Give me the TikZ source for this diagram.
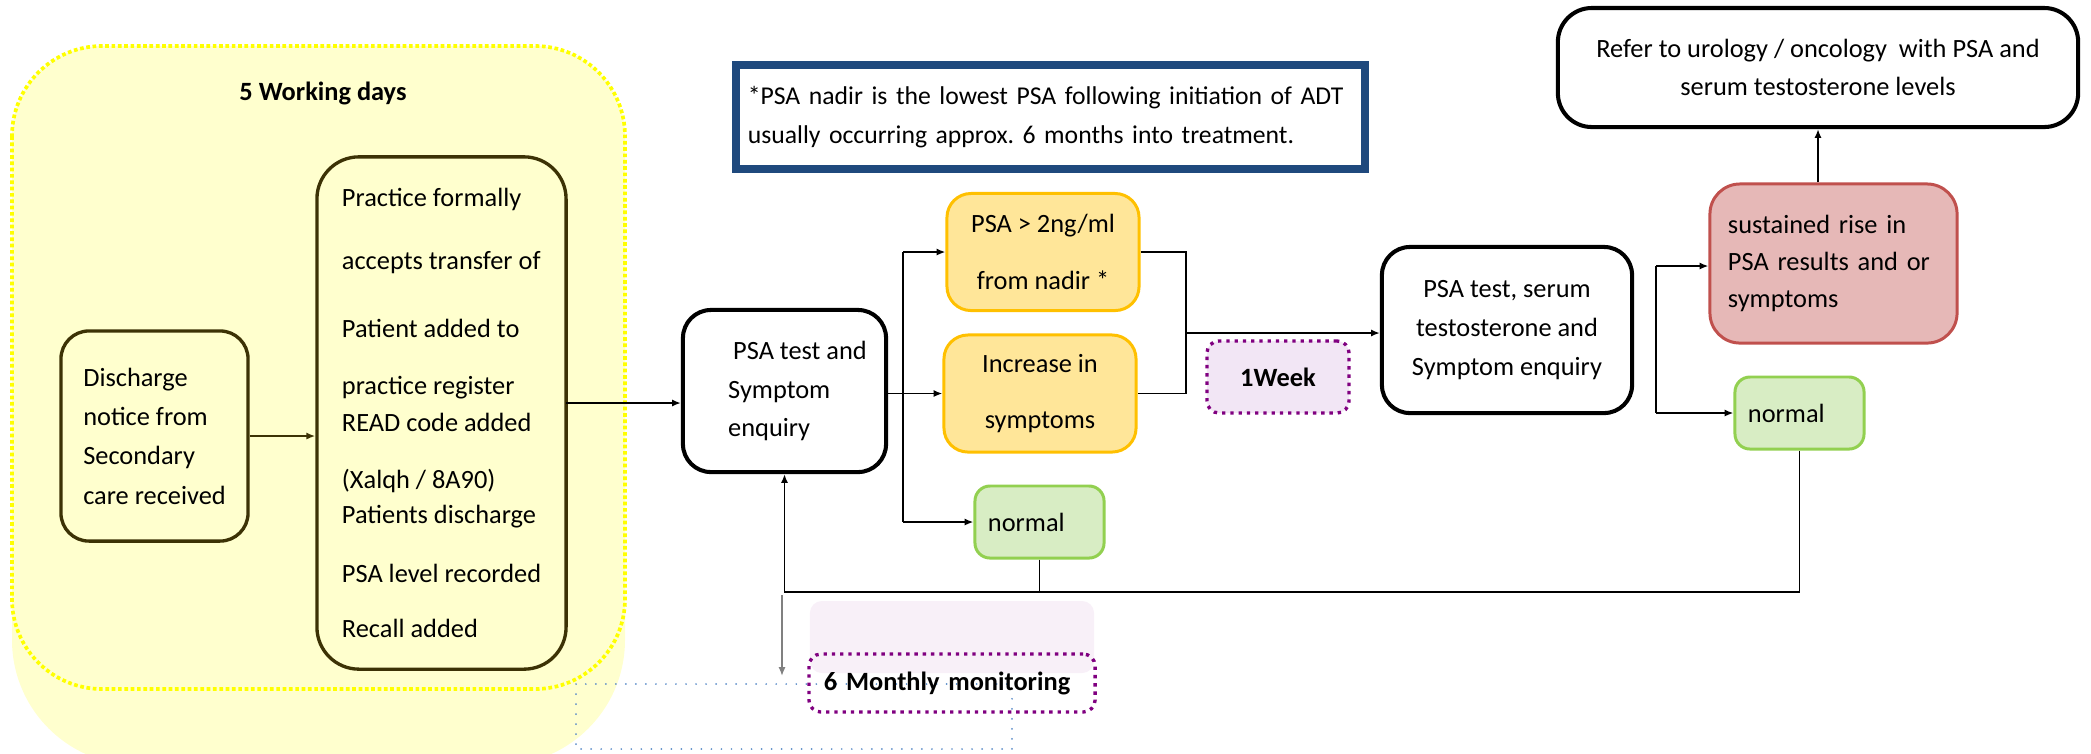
\documentclass[tikz,border=0pt]{standalone}
\usepackage{fontspec}
\setmainfont{Carlito}
\usetikzlibrary{arrows.meta,positioning,shapes}
\frenchspacing

\definecolor{boxolive}{RGB}{60,50,5}
\definecolor{dayfill}{RGB}{255,255,206}
\definecolor{dayline}{RGB}{255,255,0}
\definecolor{amberfill}{RGB}{255,230,153}
\definecolor{amberline}{RGB}{255,192,0}
\definecolor{okfill}{RGB}{216,237,196}
\definecolor{okline}{RGB}{146,208,80}
\definecolor{riskfill}{RGB}{230,184,183}
\definecolor{riskline}{RGB}{192,80,77}
\definecolor{waitline}{RGB}{128,0,128}
\definecolor{waitfill}{RGB}{242,230,245}
\definecolor{monthfill}{RGB}{248,240,248}
\definecolor{noteline}{RGB}{31,73,125}
\definecolor{linkblue}{RGB}{91,140,200}

\tikzset{
  every node/.style={font=\fontsize{7.5}{11}\selectfont},
  boldtxt/.style={font=\fontsize{7.5}{11}\selectfont\bfseries},
  stepbox/.style={rectangle, draw=boxolive, line width=0.95pt, fill=dayfill, align=left},
  testbox/.style={rectangle, draw=black, line width=1.15pt, fill=white, rounded corners=0.28cm},
  amberbox/.style={rectangle, draw=amberline, fill=amberfill, line width=0.85pt, rounded corners=0.24cm,
    align=center, minimum width=1.92cm, minimum height=1.17cm},
  okbox/.style={rectangle, draw=okline, fill=okfill, line width=0.85pt, rounded corners=0.15cm,
    minimum width=1.29cm, minimum height=0.72cm, text width=1.03cm, inner xsep=0.13cm, align=left},
  riskbox/.style={rectangle, draw=riskline, fill=riskfill, line width=0.85pt, rounded corners=0.3cm},
  waitbox/.style={rectangle, draw=waitline, line width=0.95pt, dash pattern=on 0.95pt off 1.4pt,
    rounded corners=0.12cm},
  arr/.style={line width=0.48pt, -{Latex[length=2.5pt,width=2pt]}},
  link/.style={line width=0.48pt},
}

\begin{document}
\begin{tikzpicture}[x=0.01cm,y=-0.01cm]
  \useasboundingbox (0,0) rectangle (2091,753);

  % five working days area
  \fill[dayfill, rounded corners=1.25cm] (12,60) rectangle (625,765);
  \draw[dayline, fill=dayfill, line width=1.05pt, dash pattern=on 1.05pt off 0.75pt,
    rounded corners=0.9cm] (12,46) rectangle (625,689);
  \node[boldtxt, anchor=base] (wdays) at (323,100) {5 Working days};

  \node[stepbox, rounded corners=0.28cm, minimum width=1.87cm, minimum height=2.10cm,
    font=\fontsize{7.5}{11.2}\selectfont] (discharge) at (154.5,436)
    {Discharge\\notice from\\Secondary\\care received};

  \node[stepbox, rounded corners=0.42cm, minimum width=2.49cm, minimum height=5.12cm] (practice) at (441.5,413)
    {Practice formally\\[6.9pt]
     accepts transfer of\\[8.3pt]
     Patient added to\\[5.2pt]
     practice register\\[-0.5pt]
     READ code added\\[5.2pt]
     (Xalqh / 8A90)\\[-1pt]
     Patients discharge\\[5.8pt]
     PSA level recorded\\[4.6pt]
     Recall added};

  % footnote
  \node[rectangle, draw=noteline, line width=2.28pt, minimum width=6.29cm, minimum height=1.04cm,
    text width=6.05cm, inner xsep=0.12cm, align=left, font=\fontsize{7.3}{11.1}\selectfont] (note) at (1050.5,117)
    {*PSA nadir is the lowest PSA following initiation of ADT\\usually occurring approx. 6 months into treatment.};

  % first test
  \node[testbox, minimum width=2.03cm, minimum height=1.62cm, align=left] (psatest) at (784.5,391)
    {\hspace*{0.31cm}PSA test and\\\hspace*{0.26cm}Symptom\\\hspace*{0.26cm}enquiry};
  \node[amberbox] (gt2) at (1043,252) {PSA > 2ng/ml\\[5pt]from nadir *};
  \node[amberbox] (incr) at (1040,393.5) {Increase in\\[5pt]symptoms};
  \node[okbox] (normA) at (1039.5,522) {normal};

  \node[waitbox, fill=waitfill, minimum width=1.42cm, minimum height=0.72cm, boldtxt] (week) at (1278,377) {1Week};

  % repeat test
  \node[testbox, minimum width=2.50cm, minimum height=1.66cm, align=center] (serum) at (1507,330)
    {PSA test, serum\\testosterone and\\Symptom enquiry};
  \node[riskbox, minimum width=2.47cm, minimum height=1.59cm, text width=2.11cm, inner xsep=0.18cm,
    align=left, font=\fontsize{7.5}{10.5}\selectfont] (red) at (1833.5,263.5)
    {sustained rise in\\PSA results and or\\symptoms};
  \node[okbox] (normB) at (1799.5,413) {normal};
  \node[testbox, rounded corners=0.34cm, minimum width=5.20cm, minimum height=1.19cm, align=center] (refer) at (1818,67.5)
    {Refer to urology / oncology \ with PSA and\\serum testosterone levels};

  % six monthly
  \node[fill=monthfill, rounded corners=0.12cm, minimum width=2.84cm, minimum height=0.72cm] (monthbg) at (952,637) {};
  \draw[linkblue, line width=0.55pt, line cap=round, dash pattern=on 0pt off 2.85pt] (576,684) rectangle (1012,749);
  \node[waitbox, minimum width=2.86cm, minimum height=0.58cm, text width=2.56cm, inner xsep=0.15cm,
    align=left, boldtxt] (month) at (952,683) {6 Monthly monitoring};

  % connectors
  \draw[arr, draw=boxolive] (discharge.east) -- (discharge.east -| practice.west);
  \coordinate (pin) at (566,403);
  \draw[arr] (pin) -- (pin -| psatest.west);

  \coordinate (brtop) at (903,252);
  \coordinate (brbot) at (903,522);
  \draw[arr] (psatest.east |- incr) -- (incr);
  \draw[link] (brtop) -- (brbot);
  \draw[arr] (brtop) -- (gt2);
  \draw[arr] (brbot) -- (normA);

  \coordinate (mg) at (1186,333);
  \draw[link] (gt2.east) -| (mg) |- (incr.east);
  \draw[arr] (mg) -- (mg -| serum.west);

  \coordinate (sr) at (1656,266);
  \coordinate (sn) at (1656,413);
  \draw[link] (sr) -- (sn);
  \draw[arr] (sr) -- (sr -| red.west);
  \draw[arr] (sn) -- (normB);
  \draw[arr] (red.north -| refer.south) -- (refer.south);

  \coordinate (loop) at (784.5,592);
  \draw[arr] (normB.south) |- (loop) -- (psatest.south);
  \draw[link] (normA.south) -- (normA.south |- loop);

  \coordinate (g1) at (782,595);
  \coordinate (g2) at (782,676);
  \draw[arr, draw=gray] (g1) -- (g2);
\end{tikzpicture}
\end{document}
